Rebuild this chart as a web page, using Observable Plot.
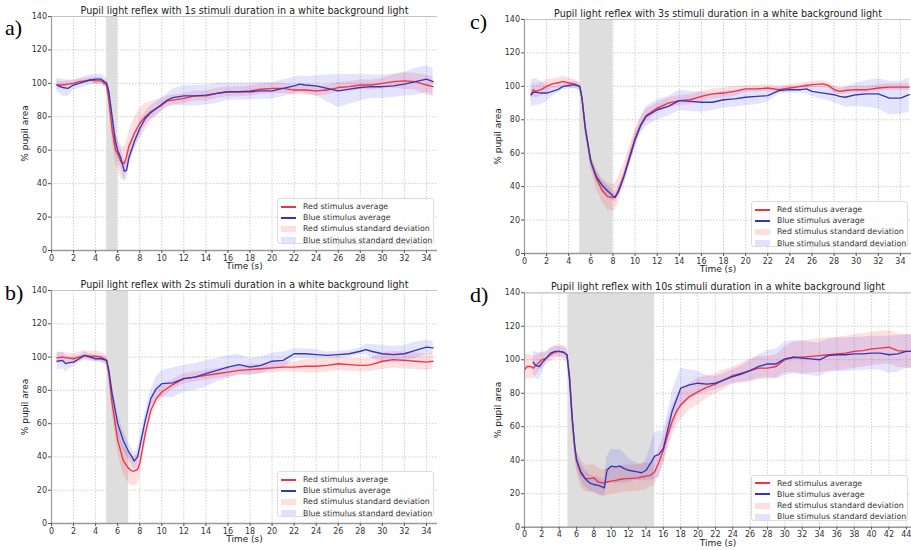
<!DOCTYPE html>
<html>
<head>
<meta charset="utf-8">
<script src="https://cdn.jsdelivr.net/npm/d3@7"></script>
<script src="https://cdn.jsdelivr.net/npm/@observablehq/plot@0.6"></script>
<style>
  html, body { margin: 0; padding: 0; background: #fff; }
  #fig { position: relative; width: 911px; height: 550px; overflow: hidden; background: #fff; font-family: "DejaVu Sans", sans-serif; }
  .panel { position: absolute; }
  .plabel { position: absolute; font-family: "Liberation Serif", "DejaVu Serif", serif; font-size: 22px; line-height: 22px; color: #000; }
  .legend { position: absolute; background: rgba(255,255,255,0.85); border: 1px solid #dcdcdc; border-radius: 3px; box-sizing: border-box; padding: 2px 3px 1px 3px; font-size: 7.85px; color: #333; }
  .legend .row { display: flex; align-items: center; height: 11.2px; white-space: nowrap; }
  .legend .sw { width: 15px; margin-right: 7px; flex: none; }
  .legend .ln { height: 2px; }
  .legend .pt { height: 6px; }
</style>
</head>
<body>
<div id="fig"></div>
<script>
// ---------- shared ----------
const yTicks = [0, 20, 40, 60, 80, 100, 120, 140];
const yDomain = [0, 140];
const xTicks34 = [0,2,4,6,8,10,12,14,16,18,20,22,24,26,28,30,32,34];
const xTicks44 = [0,2,4,6,8,10,12,14,16,18,20,22,24,26,28,30,32,34,36,38,40,42,44];
const legendLabels = ["Red stimulus average", "Blue stimulus average", "Red stimulus standard deviation", "Blue stimulus standard deviation"];
const panelLetters = ["a)", "b)", "c)", "d)"];
const titles = [
  "Pupil light reflex with 1s stimuli duration in a white background light",
  "Pupil light reflex with 2s stimuli duration in a white background light",
  "Pupil light reflex with 3s stimuli duration in a white background light",
  "Pupil light reflex with 10s stimuli duration in a white background light"
];
const stimStart = [5, 5, 5, 5];
const stimEnd = [6, 7, 8, 15];

// ---------- panel a (1 s) ----------
const tA = [0.5,1,1.5,2,2.5,3,3.5,4,4.5,5, 5.2,5.5,5.8,6,6.3,6.6,6.8,7,7.5,8, 8.5,9,9.5,10,10.5,11,12,13,14,15, 16,17,18,19,20,21,22,22.5,23,24, 25,26,27,28,29,30,31,32,33,34, 34.6];
const redA = [99,99,99.5,100,101,101.5,102,101.5,101.5,99, 90,72,60,58,53,52,56,62,70,76, 80,83,85,87,89.5,90,91,92.5,92.5,94, 95,95,95.5,96.5,97,97,96,96,96,95.5, 96,97.5,98,99,99,100,101,101.5,101,99, 98];
const blueA = [99,97.5,97,99,100,101,102,102.5,102.5,100, 95,80,65,60,55,47.5,48,55,65,73, 79,82.5,85,87.5,90,91.5,92.5,92.5,93,94, 95,95,95,95.5,95.5,97,98.5,99.5,99,98.5, 97,95.5,96.5,97.5,98,98,98.5,99.5,101,102.5, 101];
const redSdA = [3,2,2,1.5,1.5,1.5,1.5,2,2,2, 4,6,8,9,10,10,9,9,9,9, 8,6,5,4,3,3,3,3,3,3, 3,3,3,3,3,3,3,3,3,3, 3,3,3,3,3,3,4,5,5,6, 6];
const blueSdA = [4,5,5,3,3,3,3,3,3,3, 4,6,6,6,6,6,6,6,5,5, 4,4,4,4,4,5,6,6,6,6, 5,5,5,5,5,5,5,5,5,6, 8,10,9,8,7,7,7,7,8,8, 8];

// ---------- panel b (2 s) ----------
const tB = [0.5,1,1.3,1.5,2,2.5,3,3.5,4,4.5, 5,5.2,5.5,6,6.5,7,7.3,7.5,7.8,8, 8.5,9,9.5,10,11,12,13,14,15,16, 17,18,19,20,21,22,23,24,25,26, 27,28,28.5,29,30,31,32,33,34,34.6];
const redB = [99.5,100,99.5,99.5,99,100,101,100.5,100.5,100, 98,90,72,50,38,33,31.5,31.5,32.5,36, 54,68,75,79,83.5,87,88,89,90,91, 92,92.5,93,93.5,94,94,94.5,94.5,95,96, 95.5,95,95,95.5,97.5,98.5,98,97.5,97,97.5];
const blueB = [97.5,98,96,96.5,97,99,101,100,99,99, 98,92,78,60,50,43,40,37.5,40,46, 62,75,81,84,84.5,87,88,90,92,94, 95.5,94,95,97.5,98,102,102,101.5,101,101.5, 102,103.5,104.5,103.5,102,101.5,102,104,106,105.5];
const redSdB = [3,3,3,3,3,3,3,3,3,3, 3,4,6,7,8,9,9,9,9,8, 7,5,4,4,3,3,3,3,3,3, 3,3,3,3,3,3,4,4,4,4, 4,4,4,4,5,5,5,5,5,5];
const blueSdB = [5,5,5,4,3,2,2,2,2,2, 2,3,5,6,6,5,5,5,5,5, 5,5,7,8,9,8,8,8,7,7, 6,5,5,5,5,3,3,3,2,2, 2,2,3,4,5,5,5,5,4,4];

// ---------- panel c (3 s) ----------
const tC = [0.6,0.8,1,1.5,2,2.5,3,3.5,4,4.5, 5,5.2,5.5,6,6.5,7,7.5,8,8.2,8.5, 9,9.5,10,10.5,11,12,13,14,15,16, 17,18,19,20,21,22,23,24,25,25.5, 26,27,27.5,28,28.5,29,30,31,32,33, 34,34.8];
const redC = [95,98,97,98,100,101.5,102,103,102,101.5, 100,93,75,55,45,38,34,33.5,34,38, 47,58,69,77,82.5,87,90,91.5,92,94, 95.5,96,97,98.5,98.5,99,98,99,100,100.5, 101,101.5,100.5,98,97,97.5,98,98,99,99.5, 99.5,99.5];
const blueC = [95,96.5,96.5,96,96,97,98,100,100.5,101, 100,93,75,55,46,41,37.5,34.5,33.5,37, 46,57,68,76.5,82,86,88,91.5,91,90.5, 90.5,92,92.5,93.5,94,94.5,97.5,98,98,98.5, 97,96,95.5,95,94,93.5,95,95.5,95.5,93, 93,95];
const redSdC = [4,4,4,4,4,3,3,3,3,3, 2,3,4,4,6,7,8,8,8,8, 7,6,5,4,4,3,3,3,3,3, 3,3,3,2,2,2,2,2,2,2, 2,2,2,2,2,2,2,2,2,2, 2,2];
const blueSdC = [8,8,8,7,5,3,2,2,2,2, 2,2,3,3,3,3,3,3,3,3, 3,4,5,5,6,6,6,6,6,6, 5,5,5,5,5,4,2,2,2,3, 3,4,4,5,5,6,7,8,9,10, 10,10];

// ---------- panel d (10 s) ----------
const tD = [0,0.3,0.7,1,1.3,1.7,2,2.5,3,3.5, 4,4.5,4.9,5.2,5.5,5.8,6,6.5,7,7.5, 8,8.5,9,9.2,9.5,10,10.5,11,11.5,12, 13,13.5,14,14.5,15,15.5,16,16.5,17,17.5, 18,19,20,21,22,23,24,25,26,27, 28,29,30,31,32,33,34,35,36,37, 38,39,40,41,42,43,44,44.7];
const redD = [94,96,96,95,96.5,98.5,100,101,103,104.5, 105,104.5,103,90,65,47,40,32,29,29, 29.5,27,26.5,26.5,27,27.5,28,28.5,29,29, 29.5,30,30.5,31,33,39,46,55,63,69, 73,78,81,83.5,85.5,88,90.5,92,93.5,95, 95,96,100,101.5,101.5,102,102.5,103,103.5,104, 105,105.5,106.5,107,107.5,105.5,105,105];
const blueD = [null,null,null,98.5,96.5,96,98,101,104,105, 105,104.5,103,88,65,48,40,33,29,26.5, 25.5,25,24,23.5,34,36.5,36,36.5,35,34, 33,32.5,34,38,42.5,43.5,47,58,69,76, 83,85,86,85.5,86,88,90,91.5,93.5,96, 97.5,97.5,100.5,101.5,101,100.5,100,102.5,103,103, 103.5,103.5,104,104,103,103.5,105,105];
const redSdD = [9,7,7,7,6,5,5,4,4,4, 4,4,5,6,6,6,6,8,8,8, 8,8,8,8,8,8,8,8,8,8, 8,8,8,7,8,8,8,9,9,9, 9,8,8,7,6,6,5,6,7,7, 7,7,8,9,10,10,10,10,10,10, 10,10,10,10,10,10,10,10];
const blueSdD = [null,null,null,7,8,8,6,3,3,3, 3,3,3,4,5,5,5,5,5,5, 5,5,5,5,8,10,10,10,9,7, 5,5,6,10,14,14,10,10,12,12, 12,9,7,5,4,4,4,5,6,7, 8,9,10,10,10,10,10,10,10,10, 10,10,10,10,11,11,10,10];

// ---------- drawing ----------
const RED = "#ee3344", BLUE = "#3636b4";
const RED_FILL = "#ff0000", BLUE_FILL = "#2020ff";

function rows(t, m, sd) {
  return t.map((x, i) => ({t: x, m: m[i] == null ? NaN : m[i], sd: sd[i] == null ? NaN : sd[i]}));
}

const layouts = [
  {left: 0,   top: 0,   w: 455, h: 275, ml: 51, mr: 18, mt: 16,   mb: 25,   xMax: 35,   xt: xTicks34, lx: 5,  ly: 17},
  {left: 0,   top: 275, w: 455, h: 275, ml: 51, mr: 18, mt: 15,   mb: 27,   xMax: 35,   xt: xTicks34, lx: 5,  ly: 7},
  {left: 455, top: 0,   w: 456, h: 275, ml: 69, mr: 0,  mt: 19,   mb: 22,   xMax: 35,   xt: xTicks34, lx: 15, ly: 11},
  {left: 455, top: 275, w: 456, h: 275, ml: 69, mr: 0,  mt: 17.3, mb: 23.3, xMax: 44.6, xt: xTicks44, lx: 15, ly: 9}
];
const series = [
  [tA, redA, redSdA, blueA, blueSdA],
  [tB, redB, redSdB, blueB, blueSdB],
  [tC, redC, redSdC, blueC, blueSdC],
  [tD, redD, redSdD, blueD, blueSdD]
];

const fig = document.getElementById("fig");

layouts.forEach((L, k) => {
  const [t, rm, rs, bm, bs] = series[k];
  const red = rows(t, rm, rs), blue = rows(t, bm, bs);
  const stim = [{s: stimStart[k], e: stimEnd[k]}];
  const lo = d => (isNaN(d.m) || isNaN(d.sd)) ? NaN : d.m - d.sd;
  const hi = d => (isNaN(d.m) || isNaN(d.sd)) ? NaN : d.m + d.sd;

  const chart = Plot.plot({
    width: L.w, height: L.h,
    marginLeft: L.ml, marginRight: L.mr, marginTop: L.mt, marginBottom: L.mb,
    x: {domain: [0, L.xMax], label: null},
    y: {domain: yDomain, label: null},
    style: {fontFamily: "DejaVu Sans", fontSize: "8px", color: "#333", background: "transparent", overflow: "visible"},
    marks: [
      Plot.gridX(L.xt, {stroke: "#cfcfcf", strokeOpacity: 1, strokeDasharray: "1.5,1.5"}),
      Plot.gridY(yTicks, {stroke: "#cfcfcf", strokeOpacity: 1, strokeDasharray: "1.5,1.5"}),
      Plot.rect(stim, {x1: "s", x2: "e", fill: "#dedede"}),
      Plot.areaY(red, {x: "t", y1: lo, y2: hi, fill: RED_FILL, fillOpacity: 0.12}),
      Plot.areaY(blue, {x: "t", y1: lo, y2: hi, fill: BLUE_FILL, fillOpacity: 0.12}),
      Plot.line(red, {x: "t", y: "m", stroke: RED, strokeWidth: 1.35}),
      Plot.line(blue, {x: "t", y: "m", stroke: BLUE, strokeWidth: 1.35}),
      Plot.ruleY([yDomain[1]], {stroke: "#c4c4c4", strokeWidth: 1.2}),
      Plot.ruleX([0], {stroke: "#9a9a9a", strokeWidth: 1.2}),
      Plot.ruleY([0], {stroke: "#9a9a9a", strokeWidth: 1.6}),
      Plot.axisX(L.xt, {tickSize: 3, tickPadding: 1.5, fontSize: 8, label: null, stroke: "#555"}),
      Plot.axisY(yTicks, {tickSize: 3, tickPadding: 1.5, fontSize: 8, label: null, stroke: "#555"}),
      Plot.text([titles[k]], {text: d => d, frameAnchor: "top", dy: -6, lineAnchor: "middle", textAnchor: "middle", fontSize: 9.6, fill: "#222"}),
      Plot.text(["Time (s)"], {text: d => d, frameAnchor: "bottom", dy: 15.5, lineAnchor: "middle", textAnchor: "middle", fontSize: 9, fill: "#222"}),
      Plot.text(["% pupil area"], {text: d => d, frameAnchor: "left", dx: -26, rotate: -90, lineAnchor: "middle", textAnchor: "middle", fontSize: 9, fill: "#222"})
    ]
  });

  const div = document.createElement("div");
  div.className = "panel";
  div.style.left = L.left + "px";
  div.style.top = L.top + "px";
  div.style.width = L.w + "px";
  div.style.height = L.h + "px";
  div.appendChild(chart);

  const lab = document.createElement("div");
  lab.className = "plabel";
  lab.style.left = L.lx + "px";
  lab.style.top = L.ly + "px";
  lab.textContent = panelLetters[k];
  div.appendChild(lab);

  const leg = document.createElement("div");
  leg.className = "legend";
  leg.style.right = (L.mr + 3) + "px";
  leg.style.bottom = (L.mb + 6) + "px";
  leg.style.width = "157px";
  leg.style.height = "46px";
  const sw = [
    {cls: "ln", bg: RED, op: 1},
    {cls: "ln", bg: BLUE, op: 1},
    {cls: "pt", bg: RED_FILL, op: 0.13},
    {cls: "pt", bg: BLUE_FILL, op: 0.13}
  ];
  legendLabels.forEach((txt, i) => {
    const r = document.createElement("div");
    r.className = "row";
    const s = document.createElement("div");
    s.className = "sw " + sw[i].cls;
    s.style.background = sw[i].bg;
    s.style.opacity = sw[i].op;
    const tx = document.createElement("span");
    tx.textContent = txt;
    r.appendChild(s);
    r.appendChild(tx);
    leg.appendChild(r);
  });
  div.appendChild(leg);

  fig.appendChild(div);
});
</script>
</body>
</html>
